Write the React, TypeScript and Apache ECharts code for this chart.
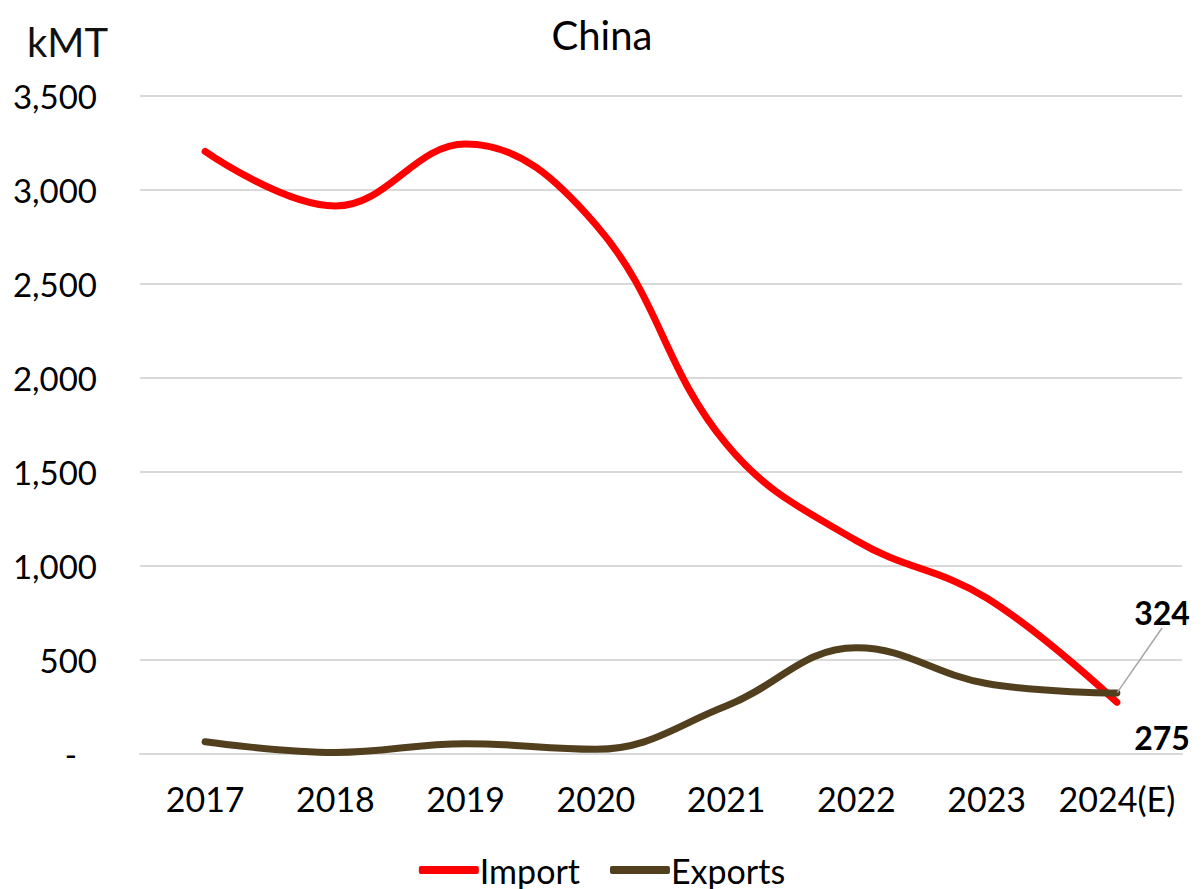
import React, { useEffect, useRef } from "react";
import * as echarts from "echarts";

const years = ["2017", "2018", "2019", "2020", "2021", "2022", "2023", "2024(E)"];
const importVals = [3205, 2915, 3245, 2815, 1650, 1135, 830, 275];
const exportVals = [65, 8, 55, 25, 255, 565, 375, 324];
const yTicks = [0, 500, 1000, 1500, 2000, 2500, 3000, 3500];

const FONT = "Lato, 'Open Sans', sans-serif";

export default function App() {
  const ref = useRef<HTMLDivElement>(null);
  useEffect(() => {
    if (!ref.current) return;
    const chart = echarts.init(ref.current, undefined, { renderer: "svg" });
    const lastIdx = years.length - 1;
    const endLabel = {
      show: true,
      fontSize: 32,
      fontWeight: "bold",
      color: "#000",
      fontFamily: FONT,
    };
    chart.setOption({
      animation: false,
      textStyle: { fontFamily: FONT },
      title: {
        text: "China",
        left: "center",
        top: 10,
        textStyle: { fontSize: 40, fontWeight: "normal", color: "#000", fontFamily: FONT },
      },
      graphic: [
        {
          type: "text",
          left: 27,
          top: 22,
          style: { text: "kMT", fontSize: 40, fill: "#111", fontFamily: FONT },
        },
      ],
      legend: {
        top: 853,
        left: "center",
        padding: 0,
        icon: "roundRect",
        itemWidth: 60,
        itemHeight: 8,
        itemGap: 30,
        textStyle: { fontSize: 34, color: "#000", fontFamily: FONT, padding: [0, 0, 0, -4] },
        data: ["Import", "Exports"],
      },
      grid: { left: 140, right: 22, top: 96, bottom: 135 },
      xAxis: {
        type: "category",
        data: years,
        boundaryGap: true,
        axisTick: { show: false },
        axisLine: { show: true, lineStyle: { color: "#d9d9d9", width: 2 } },
        axisLabel: { fontSize: 34, color: "#000", margin: 27, interval: 0, fontFamily: FONT },
      },
      yAxis: {
        type: "value",
        min: yTicks[0],
        max: yTicks[yTicks.length - 1],
        interval: 500,
        axisLine: { show: false },
        axisTick: { show: false },
        splitLine: { lineStyle: { color: "#d9d9d9", width: 2 } },
        axisLabel: {
          fontSize: 33,
          color: "#000",
          margin: 43,
          align: "right",
          fontFamily: FONT,
          formatter: (v: number) => (v === 0 ? "{d|-}" : v.toLocaleString("en-US")),
          rich: {
            d: { fontSize: 33, color: "#000", fontFamily: FONT, padding: [0, 20, 0, 0] },
          },
        },
      },
      series: [
        {
          name: "Import",
          type: "line",
          data: importVals.map((v, i) =>
            i === lastIdx ? { value: v, label: endLabel } : v
          ),
          smooth: 0.4,
          symbol: "circle",
          symbolSize: 1,
          showSymbol: true,
          lineStyle: { color: "#ff0000", width: 7, cap: "round" },
          itemStyle: { color: "#ff0000" },
          labelLayout: (params: any) => {
            if (params.dataIndex !== lastIdx) return {};
            return { x: 1162, y: 737, align: "center", verticalAlign: "middle" };
          },
          z: 2,
        },
        {
          name: "Exports",
          type: "line",
          data: exportVals.map((v, i) =>
            i === lastIdx ? { value: v, label: endLabel } : v
          ),
          smooth: 0.4,
          symbol: "circle",
          symbolSize: 1,
          showSymbol: true,
          lineStyle: { color: "#523f1e", width: 7, cap: "round" },
          itemStyle: { color: "#523f1e" },
          labelLine: { show: true, lineStyle: { color: "#a6a6a6", width: 1.5 } },
          labelLayout: (params: any) => {
            if (params.dataIndex !== lastIdx) return {};
            return { x: 1162, y: 612, align: "center", verticalAlign: "middle" };
          },
          z: 3,
        },
      ],
    });
    return () => chart.dispose();
  }, []);
  return (
    <div
      ref={ref}
      style={{ position: "absolute", left: 0, top: 0, width: 1204, height: 889 }}
    />
  );
}
